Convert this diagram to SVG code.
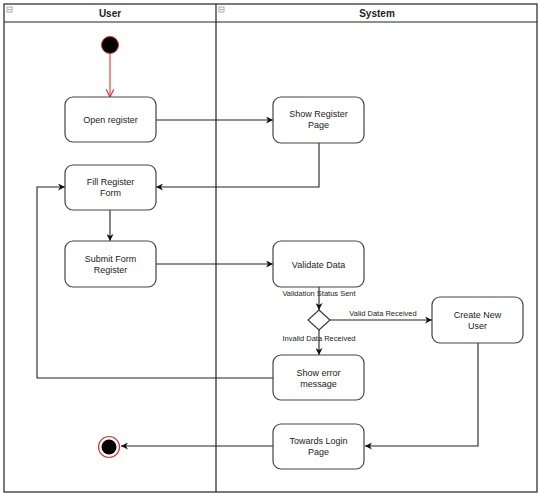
<svg xmlns="http://www.w3.org/2000/svg" width="540" height="495" viewBox="0 0 540 495">
<style>
.lane{fill:none;stroke:#222;stroke-width:1.2}
.hdr{font-family:"Liberation Sans",Arial,sans-serif;font-size:10px;font-weight:bold;fill:#222;text-anchor:middle}
.box{fill:#fff;stroke:#444;stroke-width:1.2}
.t{font-family:"Liberation Sans",Arial,sans-serif;font-size:9px;fill:#222;text-anchor:middle}
.lbl{font-family:"Liberation Sans",Arial,sans-serif;font-size:7.5px;fill:#222;text-anchor:middle}
.edge{fill:none;stroke:#222;stroke-width:1.1}
.icon{fill:#fff;stroke:#888;stroke-width:0.7}
</style>
<defs>
<marker id="arr" viewBox="0 0 10 10" refX="10" refY="5" markerWidth="7" markerHeight="7" orient="auto" markerUnits="userSpaceOnUse">
<path d="M0,0 L10,5 L0,10 L3,5 Z" fill="#111"/>
</marker>
<marker id="arrRed" viewBox="0 0 10 10" refX="10" refY="5" markerWidth="8" markerHeight="8" orient="auto" markerUnits="userSpaceOnUse">
<path d="M0,0 L10,5 L0,10" fill="none" stroke="#d33" stroke-width="1.5"/>
</marker>
</defs>
<rect x="0" y="0" width="540" height="495" fill="#fff"/>
<g id="lanes">
<rect class="lane" x="4" y="4" width="533" height="488"/>
<line class="lane" x1="4" y1="22" x2="537" y2="22"/>
<line class="lane" x1="216" y1="4" x2="216" y2="492"/>
<rect class="icon" x="7" y="7" width="5" height="5"/>
<line x1="8" y1="9.5" x2="11" y2="9.5" stroke="#888" stroke-width="0.7"/>
<rect class="icon" x="219" y="7" width="5" height="5"/>
<line x1="220" y1="9.5" x2="223" y2="9.5" stroke="#888" stroke-width="0.7"/>
<text class="hdr" x="110" y="17">User</text>
<text class="hdr" x="377" y="17">System</text>
</g>
<g id="connectors">
<line x1="110" y1="54" x2="110" y2="97" stroke="#d33" stroke-width="1.1" marker-end="url(#arrRed)"/>
<line class="edge" x1="156" y1="120" x2="273" y2="120" marker-end="url(#arr)"/>
<polyline class="edge" points="319,143 319,187 156,187" marker-end="url(#arr)"/>
<line class="edge" x1="110" y1="210" x2="110" y2="241" marker-end="url(#arr)"/>
<line class="edge" x1="156" y1="264" x2="273" y2="264" marker-end="url(#arr)"/>
<line class="edge" x1="319" y1="287" x2="319" y2="310" marker-end="url(#arr)"/>
<line class="edge" x1="330" y1="320" x2="432" y2="320" marker-end="url(#arr)"/>
<line class="edge" x1="319" y1="330" x2="319" y2="355" marker-end="url(#arr)"/>
<polyline class="edge" points="273,378 37,378 37,187 65,187" marker-end="url(#arr)"/>
<polyline class="edge" points="478,343 478,446 365,446" marker-end="url(#arr)"/>
<line class="edge" x1="273" y1="446" x2="121" y2="446" marker-end="url(#arr)"/>
<text class="lbl" x="319" y="296">Validation Status Sent</text>
<text class="lbl" x="383" y="316">Valid Data Received</text>
<text class="lbl" x="319" y="341">Invalid Data Received</text>
</g>
<g id="start">
<circle cx="110" cy="45" r="8.5" fill="#000" stroke="#d33" stroke-width="1"/>
</g>
<g id="open-register">
<rect class="box" x="65" y="97" width="91" height="45" rx="8"/>
<text class="t" x="110.5" y="123">Open register</text>
</g>
<g id="show-register-page">
<rect class="box" x="273" y="97" width="91" height="46" rx="8"/>
<text class="t" x="318.5" y="117">Show Register</text>
<text class="t" x="318.5" y="128">Page</text>
</g>
<g id="fill-register-form">
<rect class="box" x="65" y="165" width="91" height="45" rx="8"/>
<text class="t" x="110.5" y="185">Fill Register</text>
<text class="t" x="110.5" y="196">Form</text>
</g>
<g id="submit-form-register">
<rect class="box" x="65" y="241" width="91" height="46" rx="8"/>
<text class="t" x="110.5" y="262">Submit Form</text>
<text class="t" x="110.5" y="273">Register</text>
</g>
<g id="validate-data">
<rect class="box" x="273" y="241" width="91" height="46" rx="8"/>
<text class="t" x="318.5" y="268">Validate Data</text>
</g>
<g id="decision">
<polygon points="319,310 330,320 319,330 308,320" fill="#fff" stroke="#333" stroke-width="1.1"/>
</g>
<g id="create-new-user">
<rect class="box" x="432" y="297" width="91" height="46" rx="8"/>
<text class="t" x="477.5" y="318">Create New</text>
<text class="t" x="477.5" y="329">User</text>
</g>
<g id="show-error-message">
<rect class="box" x="273" y="355" width="91" height="45" rx="8"/>
<text class="t" x="318.5" y="376">Show error</text>
<text class="t" x="318.5" y="387">message</text>
</g>
<g id="towards-login-page">
<rect class="box" x="273" y="424" width="91" height="45" rx="8"/>
<text class="t" x="318.5" y="444">Towards Login</text>
<text class="t" x="318.5" y="455">Page</text>
</g>
<g id="end">
<circle cx="109" cy="447" r="10.5" fill="#fff" stroke="#d33" stroke-width="1.2"/>
<circle cx="109" cy="447" r="7.5" fill="#000"/>
</g>
</svg>
